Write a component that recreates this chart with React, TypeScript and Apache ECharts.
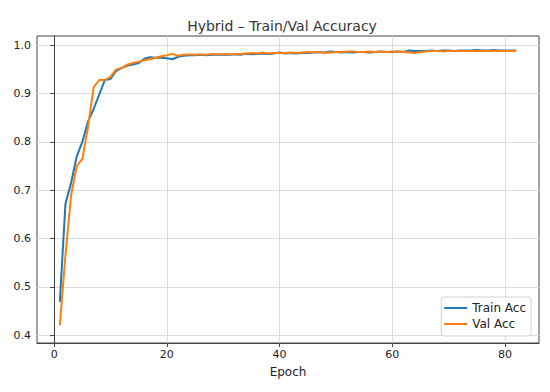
import React, { useEffect, useRef } from "react";
import * as echarts from "echarts";

const epochs: number[] = Array.from({ length: 82 }, (_, i) => i + 1);

const trainAcc: number[] = [
  0.469, 0.672, 0.715, 0.770, 0.800, 0.842, 0.868, 0.898, 0.928, 0.930,
  0.947, 0.953, 0.958, 0.960, 0.963, 0.972, 0.975, 0.974, 0.974, 0.973,
  0.971, 0.976, 0.978, 0.979, 0.979, 0.980, 0.979, 0.980, 0.980, 0.980,
  0.980, 0.981, 0.980, 0.982, 0.981, 0.982, 0.983, 0.982, 0.983, 0.985,
  0.983, 0.984, 0.983, 0.984, 0.984, 0.985, 0.986, 0.985, 0.987, 0.986,
  0.985, 0.986, 0.985, 0.986, 0.986, 0.985, 0.986, 0.987, 0.986, 0.986,
  0.987, 0.986, 0.989, 0.988, 0.988, 0.988, 0.989, 0.988, 0.989, 0.989,
  0.988, 0.989, 0.989, 0.989, 0.990, 0.989, 0.989, 0.990, 0.989, 0.989,
  0.989, 0.989,
];

const valAcc: number[] = [
  0.421, 0.565, 0.690, 0.750, 0.765, 0.830, 0.913, 0.928, 0.928, 0.935,
  0.950, 0.953, 0.960, 0.963, 0.966, 0.969, 0.971, 0.974, 0.977, 0.979,
  0.982, 0.978, 0.980, 0.981, 0.980, 0.981, 0.980, 0.982, 0.981, 0.981,
  0.981, 0.982, 0.982, 0.983, 0.984, 0.983, 0.985, 0.983, 0.984, 0.984,
  0.984, 0.985, 0.984, 0.985, 0.986, 0.985, 0.986, 0.984, 0.985, 0.986,
  0.986, 0.987, 0.987, 0.986, 0.986, 0.987, 0.986, 0.987, 0.986, 0.987,
  0.987, 0.986, 0.985, 0.984, 0.986, 0.987, 0.988, 0.988, 0.987, 0.988,
  0.988, 0.988, 0.988, 0.988, 0.988, 0.988, 0.988, 0.988, 0.988, 0.988,
  0.988, 0.988,
];

const xTicks: number[] = [0, 20, 40, 60, 80];
const yTicks: number[] = [0.4, 0.5, 0.6, 0.7, 0.8, 0.9, 1.0];

const FONT = "DejaVu Sans";

export default function App() {
  const ref = useRef<HTMLDivElement>(null);
  useEffect(() => {
    if (!ref.current) return;
    const chart = echarts.init(ref.current, null, { renderer: "svg" });
    chart.setOption({
      animation: false,
      backgroundColor: "#ffffff",
      textStyle: { fontFamily: FONT },
      title: {
        text: "Hybrid – Train/Val Accuracy",
        left: 277,
        textAlign: "center",
        top: 14,
        textStyle: { fontFamily: FONT, fontSize: 14, fontWeight: "normal", color: "#333" },
      },
      legend: {
        orient: "vertical",
        right: 19,
        top: 297,
        backgroundColor: "#fff",
        borderColor: "#d0d0d0",
        borderWidth: 1,
        borderRadius: 3,
        padding: [5, 5, 6, 3],
        itemGap: 4,
        itemWidth: 23,
        itemHeight: 2,
        icon: "rect",
        textStyle: { fontFamily: FONT, fontSize: 12, color: "#222" },
        data: ["Train Acc", "Val Acc"],
      },
      grid: {
        left: 37,
        right: 11,
        top: 36,
        bottom: 49,
        show: true,
        borderColor: "#444",
        borderWidth: 1,
        backgroundColor: "transparent",
      },
      xAxis: {
        type: "value",
        min: -3.05,
        max: 86.05,
        name: "Epoch",
        nameLocation: "middle",
        nameGap: 23,
        nameTextStyle: { fontFamily: FONT, fontSize: 12, color: "#222" },
        axisLine: { show: true, lineStyle: { color: "#444", width: 1 } },
        axisTick: { show: true, length: 4, customValues: xTicks, lineStyle: { color: "#444" } },
        axisLabel: {
          customValues: xTicks,
          fontFamily: FONT,
          fontSize: 11,
          color: "#222",
          margin: 6,
        },
        splitLine: { show: true, lineStyle: { color: "#dcdcdc", width: 1 } },
      },
      yAxis: {
        type: "value",
        min: 0.384,
        max: 1.019,
        axisLine: { show: true, lineStyle: { color: "#444", width: 1 } },
        axisTick: { show: true, length: 4, customValues: yTicks, lineStyle: { color: "#444" } },
        axisLabel: {
          customValues: yTicks,
          fontFamily: FONT,
          fontSize: 11,
          color: "#222",
          margin: 6,
          formatter: (v: number) => v.toFixed(1),
        },
        splitLine: { show: true, lineStyle: { color: "#dcdcdc", width: 1 } },
      },
      series: [
        {
          name: "Train Acc",
          type: "line",
          data: epochs.map((e, i) => [e, trainAcc[i]]),
          showSymbol: false,
          symbol: "none",
          lineStyle: { color: "#1f77b4", width: 2 },
          itemStyle: { color: "#1f77b4" },
          z: 3,
        },
        {
          name: "Val Acc",
          type: "line",
          data: epochs.map((e, i) => [e, valAcc[i]]),
          showSymbol: false,
          symbol: "none",
          lineStyle: { color: "#ff7f0e", width: 2 },
          itemStyle: { color: "#ff7f0e" },
          z: 4,
        },
      ],
    });
    return () => chart.dispose();
  }, []);
  return <div ref={ref} style={{ width: 550, height: 392, position: "fixed", left: 0, top: 0 }} />;
}
